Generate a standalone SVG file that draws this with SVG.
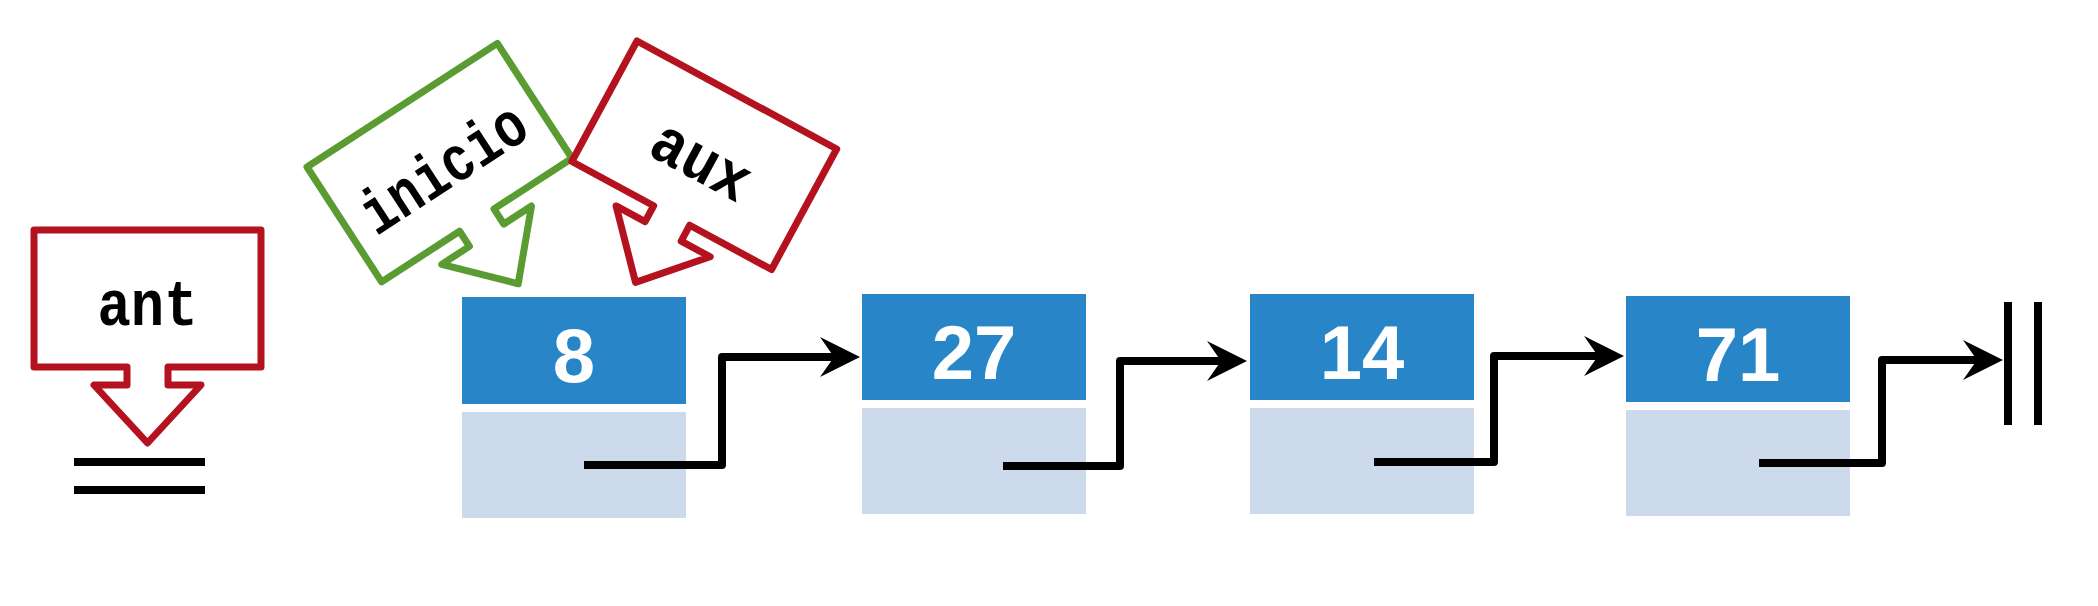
<svg xmlns="http://www.w3.org/2000/svg" width="2098" height="606" viewBox="0 0 2098 606">
<defs>
<style>
.callout{fill:#fff;stroke-width:7;stroke-linejoin:round}
.red{stroke:#b5121f}
.green{stroke:#5a9b32}
.lbl{font-family:"Liberation Mono","DejaVu Sans Mono",monospace;font-weight:bold;font-size:64px;fill:#000;text-anchor:middle}
.blue{fill:#2886c8}
.light{fill:#cddaeb}
.num{font-family:"Liberation Sans",Arial,sans-serif;font-weight:bold;font-size:76px;fill:#fff;text-anchor:middle}
.conn{fill:none;stroke:#000;stroke-width:8;stroke-linejoin:round}
.bar{stroke:#000;stroke-width:8}
</style>
<path id="co" d="M0,0 H227 V137 H134 V155 H167 L113.5,213 L60,155 H93 V137 H0 Z"/>
<marker id="ah" viewBox="0 0 40 40" refX="14" refY="20" markerWidth="40" markerHeight="40" markerUnits="userSpaceOnUse" orient="auto">
<path d="M0,0 L40,20 L0,40 L14,20 Z" fill="#000"/>
</marker>
</defs>
<rect width="2098" height="606" fill="#fff"/>
<g id="ant" transform="translate(34,230)">
<use href="#co" class="callout red"/>
<text class="lbl" x="113.5" y="95" textLength="100" lengthAdjust="spacingAndGlyphs">ant</text>
</g>
<g id="ant-null">
<line class="bar" x1="74" y1="462" x2="205" y2="462"/>
<line class="bar" x1="74" y1="490" x2="205" y2="490"/>
</g>
<g id="inicio" transform="translate(307,167) rotate(-33)">
<use href="#co" class="callout green"/>
<text class="lbl" x="113.5" y="96" textLength="186" lengthAdjust="spacingAndGlyphs">inicio</text>
</g>
<g id="aux" transform="translate(637,41) rotate(28.4)">
<use href="#co" class="callout red"/>
<text class="lbl" x="113.5" y="95" textLength="104" lengthAdjust="spacingAndGlyphs">aux</text>
</g>
<g id="node8">
<rect class="blue" x="462" y="297" width="224" height="107"/>
<rect class="light" x="462" y="412" width="224" height="106"/>
<text class="num" x="574" y="382">8</text>
</g>
<g id="node27">
<rect class="blue" x="862" y="294" width="224" height="106"/>
<rect class="light" x="862" y="408" width="224" height="106"/>
<text class="num" x="974" y="379">27</text>
</g>
<g id="node14">
<rect class="blue" x="1250" y="294" width="224" height="106"/>
<rect class="light" x="1250" y="408" width="224" height="106"/>
<text class="num" x="1362" y="379">14</text>
</g>
<g id="node71">
<rect class="blue" x="1626" y="296" width="224" height="106"/>
<rect class="light" x="1626" y="410" width="224" height="106"/>
<text class="num" x="1738" y="381">71</text>
</g>
<g id="null-end">
<line class="bar" x1="2008" y1="302" x2="2008" y2="425"/>
<line class="bar" x1="2038" y1="302" x2="2038" y2="425"/>
</g>
<g id="connectors">
<path class="conn" d="M584,465 H722 V357 H834" marker-end="url(#ah)"/>
<path class="conn" d="M1003,466 H1120 V361 H1221" marker-end="url(#ah)"/>
<path class="conn" d="M1374,462 H1494 V356 H1598" marker-end="url(#ah)"/>
<path class="conn" d="M1759,463 H1882 V360 H1977" marker-end="url(#ah)"/>
</g>
</svg>
